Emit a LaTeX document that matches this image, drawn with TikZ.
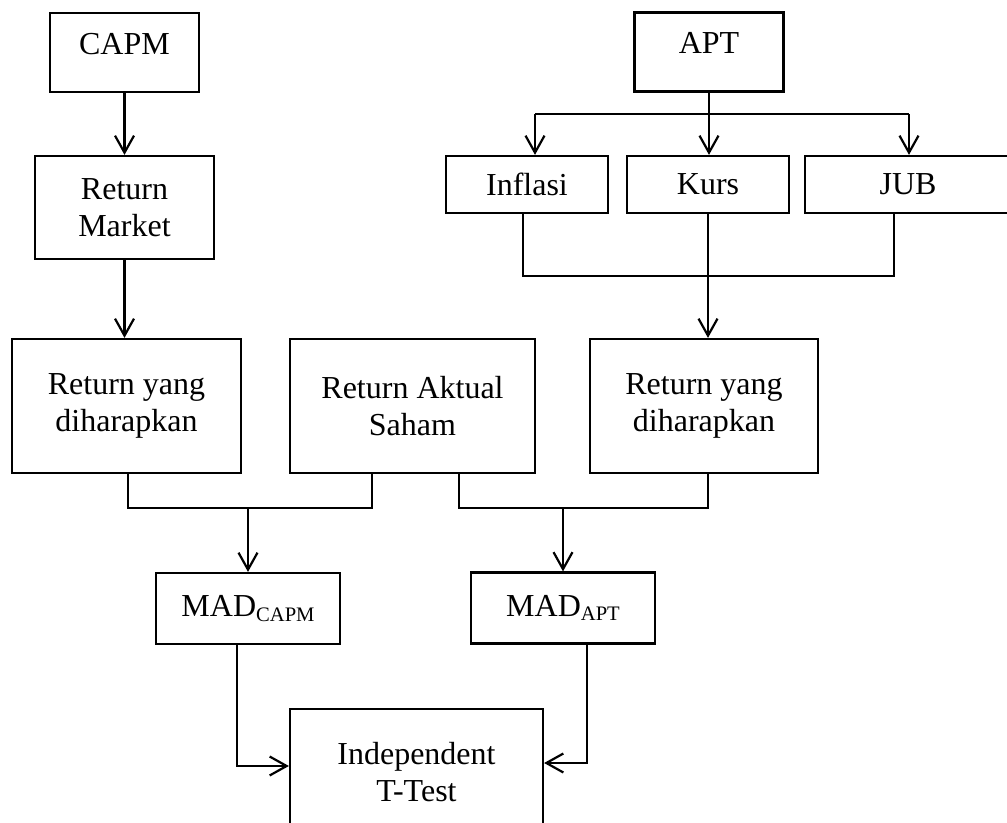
\documentclass[tikz,border=0pt]{standalone}
\usepackage{fontspec}
\setmainfont{Liberation Serif}
\usetikzlibrary{arrows.meta}

% smaller, lowered index after MAD
\newcommand{\madsub}[1]{\raisebox{-0.14em}{\fontsize{10.3pt}{12pt}\selectfont #1}}

\tikzset{
  box/.style={draw, line width=1.1pt, inner sep=0pt, align=center,
    font=\fontsize{16pt}{18.8pt}\selectfont},
  headbox/.style={box, minimum width=74.5pt, minimum height=39.5pt, text depth=9pt},
  facbox/.style={box, minimum width=81pt, minimum height=28.5pt},
  retbox/.style={box, minimum width=114.5pt, minimum height=67pt},
  madbox/.style={box, minimum width=92pt, minimum height=35.5pt}
}

\begin{document}
\begin{tikzpicture}[x=0.5pt,y=-0.5pt,line width=1.1pt,
  >={Straight Barb[length=8.5pt,width=9.5pt]}]
\useasboundingbox (0,0) rectangle (1007,823);
\clip (0,0) rectangle (1007,823);
% ---------- CAPM column ----------
\node[headbox] (capm) at (124.5,52.5) {CAPM};
\node[box, minimum width=89.5pt, minimum height=51.5pt] (retmkt) at (124.5,207.5) {Return\\Market};
% ---------- APT column and its three factors ----------
\node[headbox] (apt) at (709,52) {APT};
\node[facbox] (infl) at (527,184.5) {Inflasi};
\node[facbox] (kurs) at (708,184.5) {Kurs};
\node[facbox, minimum width=103pt] (jub) at (908,184.5) {JUB};
% ---------- returns ----------
\node[retbox] (rexpL) at (126.5,406) {Return yang\\diharapkan};
\node[retbox, minimum width=122.5pt] (raktual) at (412.5,406) {Return Aktual\\Saham};
\node[retbox, minimum width=114pt] (rexpR) at (704,406) {Return yang\\diharapkan};
% ---------- MAD and test ----------
\node[madbox] (madcapm) at (248,608.5) {MAD\madsub{CAPM}};
\node[madbox] (madapt) at (563,608) {MAD\madsub{APT}};
\node[box, minimum width=126.5pt, minimum height=63pt] (ttest) at (416.5,772) {Independent\\T-Test};

% ---------- connectors ----------
\coordinate (brL) at (535,114);
\coordinate (brR) at (909,114);
\coordinate (jnL) at (523,276);
\coordinate (jnR) at (894,276);
\coordinate (jA) at (128,508);
\coordinate (jB) at (372,508);
\coordinate (jC) at (459,508);
\coordinate (jD) at (708,508);
\coordinate (kL) at (237,766);
\coordinate (kR) at (587,763);

\draw[->] (capm.south) -- (capm.south |- retmkt.north);
\draw[->] (retmkt.south) -- (retmkt.south |- rexpL.north);

\draw (brL) -- (brR);
\draw[->] (apt.south) -- (apt.south |- kurs.north);
\draw[->] (brL) -- (brL |- infl.north);
\draw[->] (brR) -- (brR |- jub.north);

\draw (jnL |- infl.south) -- (jnL) -- (jnR) -- (jnR |- jub.south);
\draw[->] (kurs.south) -- (kurs.south |- rexpR.north);

\draw (jA |- rexpL.south) -- (jA) -- (jB) -- (jB |- raktual.south);
\draw[->] (madcapm.north |- jA) -- (madcapm.north);
\draw (jC |- raktual.south) -- (jC) -- (jD) -- (jD |- rexpR.south);
\draw[->] (madapt.north |- jC) -- (madapt.north);

\draw[->] (kL |- madcapm.south) -- (kL) -- (kL -| ttest.west);
\draw[->] (kR |- madapt.south) -- (kR) -- (kR -| ttest.east);
\end{tikzpicture}
\end{document}
